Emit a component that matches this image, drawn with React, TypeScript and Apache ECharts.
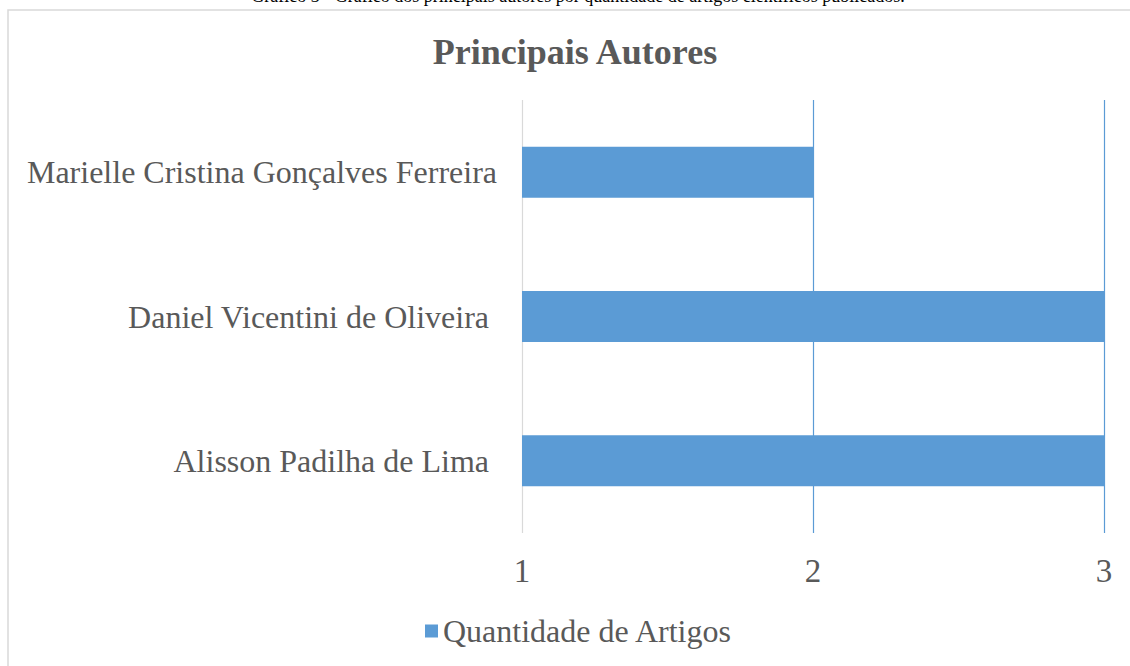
import React, { useEffect, useRef } from "react";
import * as echarts from "echarts";

const categories = ["Alisson Padilha de Lima ", "Daniel Vicentini de Oliveira ", "Marielle Cristina Gonçalves Ferreira"];
const values = [3, 3, 2];
const seriesName = "Quantidade de Artigos";
const titleText = "Principais Autores";
const captionText = "Gráfico 3 - Gráfico dos principais autores por quantidade de artigos científicos publicados.";

export default function App() {
  const ref = useRef<HTMLDivElement>(null);
  useEffect(() => {
    if (!ref.current) return;
    const chart = echarts.init(ref.current, null, { renderer: "svg" });
    const font = "Times New Roman";
    chart.setOption({
      animation: false,
      backgroundColor: "#ffffff",
      textStyle: { fontFamily: font },
      title: {
        text: titleText,
        left: 570,
        textAlign: "center",
        top: 29,
        textStyle: { fontFamily: font, fontSize: 36, fontWeight: "bold", color: "#595959" },
      },
      graphic: [
        {
          type: "rect",
          shape: { x: 8, y: 10, width: 1300, height: 800 },
          style: { fill: "none", stroke: "#d9d9d9", lineWidth: 1.5 },
          silent: true,
        },
        {
          type: "text",
          x: 578,
          y: 5,
          style: {
            text: captionText,
            font: "18px 'Liberation Serif', serif",
            fill: "#000000",
            align: "center",
            verticalAlign: "bottom",
          },
          silent: true,
        },
      ],
      legend: {
        data: [seriesName],
        bottom: 14,
        left: 420,
        icon: "rect",
        itemWidth: 13,
        itemHeight: 13,
        itemGap: 8,
        textStyle: { fontFamily: font, fontSize: 32, color: "#595959" },
      },
      grid: { left: 522, right: 26, top: 100, bottom: 133, containLabel: false },
      xAxis: {
        type: "value",
        min: 1,
        max: 3,
        interval: 1,
        axisLine: { show: false },
        axisTick: { show: false },
        axisLabel: { fontFamily: font, fontSize: 33, color: "#595959", margin: 21 },
        splitLine: { show: true, lineStyle: { color: ["#d9d9d9", "#5b9bd5", "#5b9bd5"], width: 1.2 } },
      },
      yAxis: {
        type: "category",
        data: categories,
        axisLine: { show: false },
        axisTick: { show: false },
        axisLabel: { fontFamily: font, fontSize: 32, color: "#595959", margin: 25 },
      },
      series: [
        {
          name: seriesName,
          type: "bar",
          data: values,
          barWidth: 51,
          itemStyle: { color: "#5b9bd5" },
        },
      ],
    });
    return () => chart.dispose();
  }, []);
  return <div ref={ref} style={{ position: "absolute", left: 0, top: 0, width: 1130, height: 666 }} />;
}
